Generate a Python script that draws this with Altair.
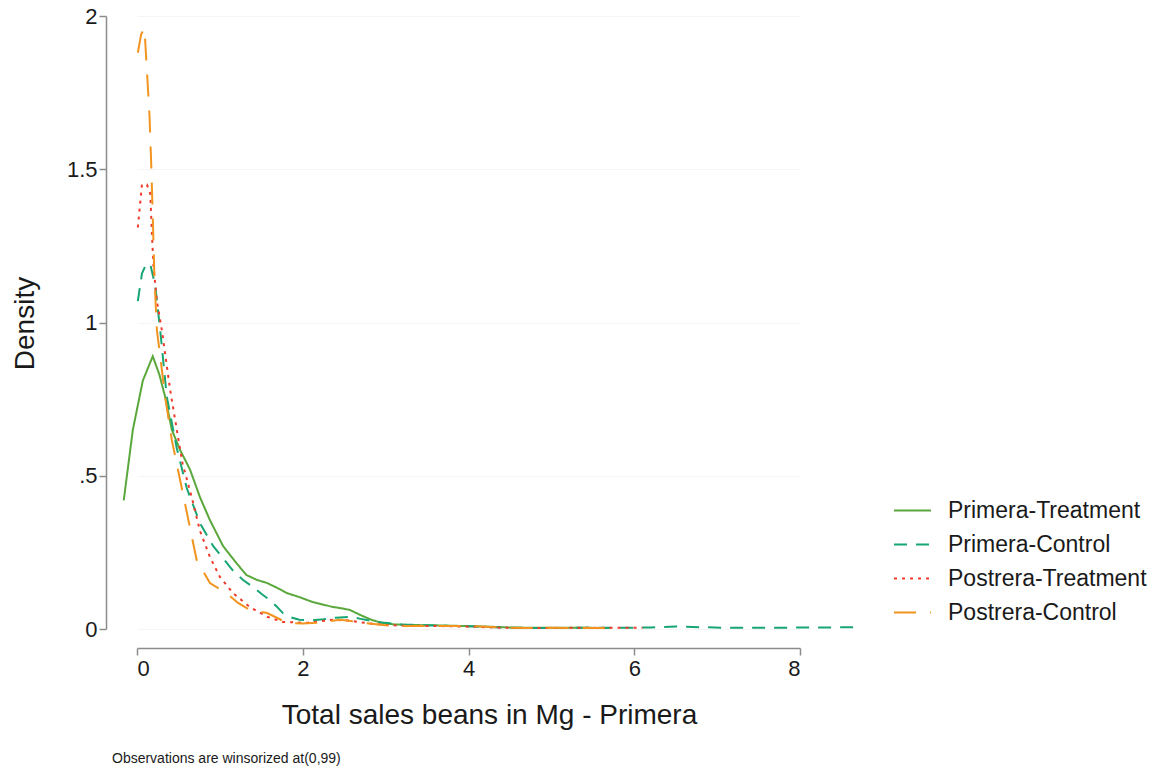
import altair as alt
import pandas as pd

FONT = "Liberation Sans"
TEXT = "#1a1a1a"
AXIS = "#8c8c8c"

SERIES = ["Primera-Treatment", "Primera-Control", "Postrera-Treatment", "Postrera-Control"]
COLORS = ["#5aa83c", "#17a673", "#ee3b2c", "#f2941f"]
DASHES = [[1, 0], [13, 9], [3, 5], [22, 14]]

X_TICKS = [0, 2, 4, 6, 8]
Y_TICKS = [0, 0.5, 1, 1.5, 2]
X_TITLE = "Total sales beans in Mg - Primera"
Y_TITLE = "Density"
NOTE = "Observations are winsorized at(0,99)"

# Kernel density estimates (sales in Mg, density)
pt_x = [-0.16, -0.05, 0.07, 0.19, 0.27, 0.34, 0.42, 0.52, 0.64, 0.76, 0.88, 1.04, 1.20, 1.32,
        1.45, 1.57, 1.70, 1.81, 1.96, 2.12, 2.24, 2.36, 2.46, 2.57, 2.70, 2.83, 2.95, 3.1,
        3.3, 3.6, 3.9, 4.2, 4.5, 4.8, 5.1, 5.4, 5.7]
pt_y = [0.42, 0.65, 0.81, 0.89, 0.83, 0.757, 0.65, 0.584, 0.52, 0.43, 0.355, 0.27, 0.215, 0.176,
        0.16, 0.15, 0.133, 0.117, 0.104, 0.088, 0.08, 0.072, 0.068, 0.062, 0.045, 0.03, 0.02, 0.015,
        0.013, 0.012, 0.01, 0.008, 0.005, 0.004, 0.004, 0.004, 0.003]

pc_x = [0.01, 0.06, 0.11, 0.16, 0.22, 0.28, 0.36, 0.48, 0.60, 0.76, 0.92, 1.04, 1.16, 1.28,
        1.40, 1.50, 1.60, 1.68, 1.76, 1.86, 1.96, 2.10, 2.25, 2.40, 2.57, 2.70, 2.85, 3.0,
        3.2, 3.5, 3.8, 4.1, 4.4, 4.7, 5.0, 5.3, 5.6, 5.9, 6.2, 6.5, 6.8, 7.1, 7.4, 7.7,
        8.0, 8.3, 8.65]
pc_y = [1.07, 1.16, 1.19, 1.19, 1.12, 0.975, 0.757, 0.59, 0.46, 0.345, 0.27, 0.23, 0.19, 0.16,
        0.137, 0.115, 0.095, 0.075, 0.052, 0.038, 0.03, 0.028, 0.032, 0.037, 0.04, 0.033, 0.025, 0.02,
        0.015, 0.012, 0.01, 0.008, 0.005, 0.003, 0.003, 0.004, 0.004, 0.004, 0.005, 0.008, 0.006,
        0.004, 0.004, 0.004, 0.005, 0.005, 0.006]

qt_x = [0.01, 0.06, 0.12, 0.16, 0.18, 0.20, 0.24, 0.30, 0.40, 0.48, 0.55, 0.66, 0.76, 0.88,
        1.00, 1.16, 1.36, 1.57, 1.76, 2.05, 2.20, 2.36, 2.55, 2.75, 2.95, 3.2, 3.5, 3.8,
        4.1, 4.4, 4.7, 5.0, 5.3, 5.6, 5.9, 6.1]
qt_y = [1.31, 1.45, 1.45, 1.42, 1.29, 1.18, 1.07, 0.975, 0.78, 0.65, 0.54, 0.43, 0.32, 0.235,
        0.17, 0.117, 0.072, 0.04, 0.023, 0.02, 0.025, 0.03, 0.028, 0.02, 0.014, 0.011, 0.01, 0.009,
        0.007, 0.004, 0.003, 0.003, 0.004, 0.004, 0.004, 0.004]

qc_x = [0.01, 0.05, 0.09, 0.12, 0.15, 0.17, 0.19, 0.21, 0.24, 0.28, 0.34, 0.42, 0.52, 0.62,
        0.72, 0.88, 1.08, 1.22, 1.36, 1.57, 1.70, 1.81, 2.0, 2.17, 2.30, 2.45, 2.60, 2.80,
        3.0, 3.2, 3.5, 3.8, 4.1, 4.4, 4.7, 5.0, 5.3, 5.7]
qc_y = [1.88, 1.94, 1.96, 1.82, 1.68, 1.53, 1.35, 1.15, 0.975, 0.89, 0.757, 0.617, 0.486, 0.356,
        0.225, 0.15, 0.117, 0.085, 0.062, 0.052, 0.035, 0.02, 0.018, 0.02, 0.025, 0.03, 0.025, 0.018,
        0.012, 0.01, 0.01, 0.01, 0.009, 0.005, 0.003, 0.004, 0.003, 0.003]

rows = []
for name, xs, ys in zip(SERIES, [pt_x, pc_x, qt_x, qc_x], [pt_y, pc_y, qt_y, qc_y]):
    for xv, yv in zip(xs, ys):
        rows.append({"series": name, "sales": xv, "density": yv})
df = pd.DataFrame(rows)

legend = alt.Legend(title=None)

lines = alt.Chart(df).mark_line(strokeWidth=2, clip=False).encode(
    x=alt.X(
        "sales:Q",
        scale=alt.Scale(domain=[0, 8], nice=False, zero=False),
        axis=alt.Axis(
            values=X_TICKS, title=X_TITLE, offset=19, tickSize=7, labelPadding=3,
            grid=False, domainColor=AXIS, tickColor=AXIS, domainWidth=1.5, tickWidth=1.5,
            labelFont=FONT, labelFontSize=22, labelColor=TEXT,
            titleFont=FONT, titleFontSize=28, titleFontWeight="normal", titleColor=TEXT,
            titleX=352, titleY=75, titleBaseline="alphabetic", titleAlign="center",
        ),
    ),
    y=alt.Y(
        "density:Q",
        scale=alt.Scale(domain=[0, 2], nice=False),
        axis=alt.Axis(
            values=Y_TICKS, title=Y_TITLE, offset=31, tickSize=7, labelPadding=2,
            labelExpr="datum.value == 0.5 ? '.5' : toString(datum.value)",
            grid=True, gridColor="#f5f5f5", gridWidth=1,
            domainColor=AXIS, tickColor=AXIS, domainWidth=1.5, tickWidth=1.5,
            labelFont=FONT, labelFontSize=22, labelColor=TEXT,
            titleFont=FONT, titleFontSize=28, titleFontWeight="normal", titleColor=TEXT,
            titleX=-73, titleY=307, titleBaseline="alphabetic", titleAlign="center",
        ),
    ),
    color=alt.Color("series:N", scale=alt.Scale(domain=SERIES, range=COLORS), legend=legend),
    strokeDash=alt.StrokeDash("series:N", scale=alt.Scale(domain=SERIES, range=DASHES), legend=legend),
)

note = alt.Chart(pd.DataFrame({"note": [NOTE]})).mark_text(
    align="left", baseline="middle", font=FONT, fontSize=14, color=TEXT
).encode(x=alt.value(-25), y=alt.value(743), text="note:N")

chart = alt.layer(lines, note).properties(
    width=663,
    height=613,
    autosize=alt.AutoSizeParams(type="none"),
    padding={"left": 137, "top": 16, "right": 356, "bottom": 142},
).configure_view(stroke=None).configure_legend(
    orient="none", legendX=756, legendY=475,
    symbolType="stroke", symbolSize=1369, symbolStrokeWidth=2,
    labelFont=FONT, labelFontSize=23, labelColor=TEXT, labelOffset=16,
    labelLimit=0, rowPadding=2,
)

chart.save("out.html", embed_options={"renderer": "svg", "actions": False})
